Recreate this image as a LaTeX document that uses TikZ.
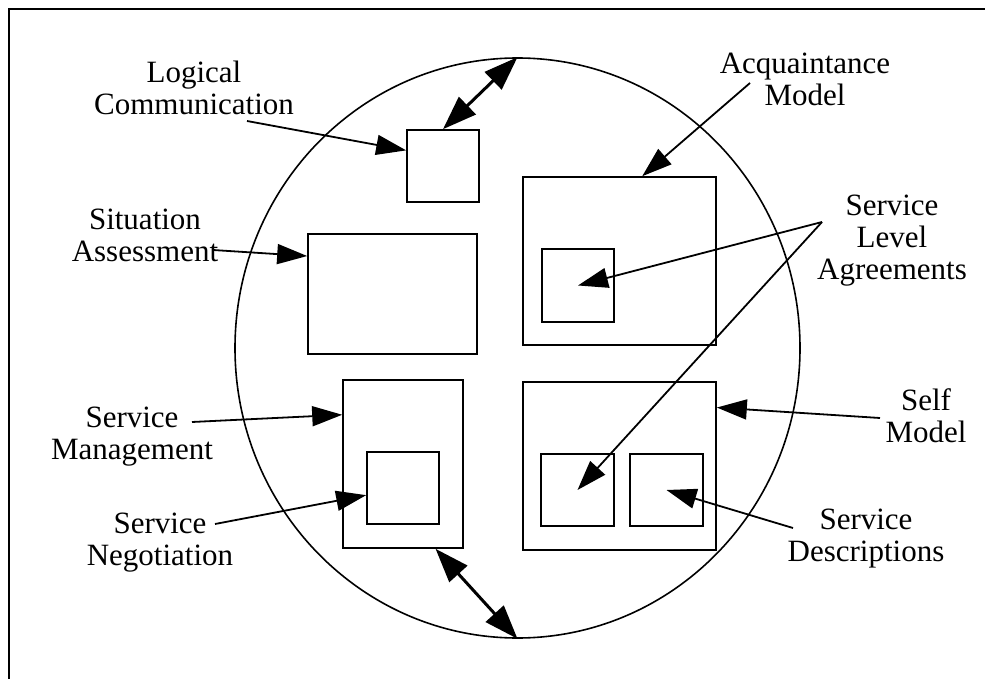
\documentclass[tikz,border=0pt]{standalone}
\usepackage{fontspec}
\setmainfont{Liberation Serif}
\usepackage{tikz}
\usetikzlibrary{arrows.meta,shapes.geometric}

\begin{document}
\begin{tikzpicture}[x=1pt, y=-1pt,
  box/.style={rectangle, draw, line width=1.6pt, inner sep=0pt},
  lbl/.style={align=center, font=\fontsize{31}{32}\selectfont, inner sep=0pt},
  ptr/.style={line width=1.8pt, -{Triangle[length=30pt,width=20pt]}},
  link/.style={line width=3pt, {Triangle[length=34pt,width=24pt]}-{Triangle[length=34pt,width=24pt]}}]
\useasboundingbox (0,0) rectangle (985,679);

\draw[line width=2.2pt] (985,9) -- (9,9) -- (9,679);

% the agent
\node[ellipse, draw, line width=1.6pt, inner sep=0pt, minimum width=565pt, minimum height=580pt] (agent) at (517.5,348) {};

\node[box, minimum width=72pt, minimum height=72pt] (logcom) at (443,166) {};
\node[box, minimum width=169pt, minimum height=120pt] (sitass) at (392.5,294) {};
\node[box, minimum width=193pt, minimum height=168pt] (acqmod) at (619.5,261) {};
\node[box, minimum width=72pt, minimum height=73pt] (slaa) at (578,285.5) {};
\node[box, minimum width=120pt, minimum height=168pt] (srvmgt) at (403,464) {};
\node[box, minimum width=72pt, minimum height=72pt] (srvneg) at (403,488) {};
\node[box, minimum width=193pt, minimum height=168pt] (selfmod) at (619.5,466) {};
\node[box, minimum width=73pt, minimum height=72pt] (slab) at (577.5,490) {};
\node[box, minimum width=73pt, minimum height=72pt] (srvdesc) at (666.5,490) {};

% labels
\node[lbl] (lctext) at (194,88) {Logical\\Communication};
\node[lbl] (sittext) at (145,235) {Situation\\Assessment};
\node[lbl] (mgttext) at (132,437) {Service\\Management};
\node[lbl] (negtext) at (160,542.5) {Service\\Negotiation};
\node[lbl] (acqtext) at (805,79) {Acquaintance\\Model};
\node[lbl] (slatext) at (892,241) {Service\\Level\\Agreements};
\node[lbl] (selftext) at (926,416) {Self\\Model};
\node[lbl] (desctext) at (866,539) {Service\\Descriptions};

\coordinate (lcfrom) at (247,121);
\coordinate (sitfrom) at (213,250);
\coordinate (mgtfrom) at (192,422);
\coordinate (negfrom) at (215,524);
\coordinate (acqfrom) at (750,83);
\coordinate (slafrom) at (822,222);
\coordinate (selffrom) at (880,418);
\coordinate (descfrom) at (793,528);

\draw[ptr] (lcfrom) -- (logcom.157);
\draw[ptr] (sitfrom) -- (sitass.156);
\draw[ptr] (mgtfrom) -- (srvmgt.141);
\draw[ptr] (negfrom) -- (srvneg.191);
\draw[ptr] (acqfrom) -- (acqmod.75);
\draw[ptr] (slafrom) -- (slaa.center);
\draw[ptr] (slafrom) -- (slab.center);
\draw[ptr] (selffrom) -- (selfmod.31);
\draw[ptr] (descfrom) -- (srvdesc.center);

\draw[link] (logcom.north) -- (agent.north);
\draw[link] (srvmgt.291) -- (agent.south);
\end{tikzpicture}
\end{document}
